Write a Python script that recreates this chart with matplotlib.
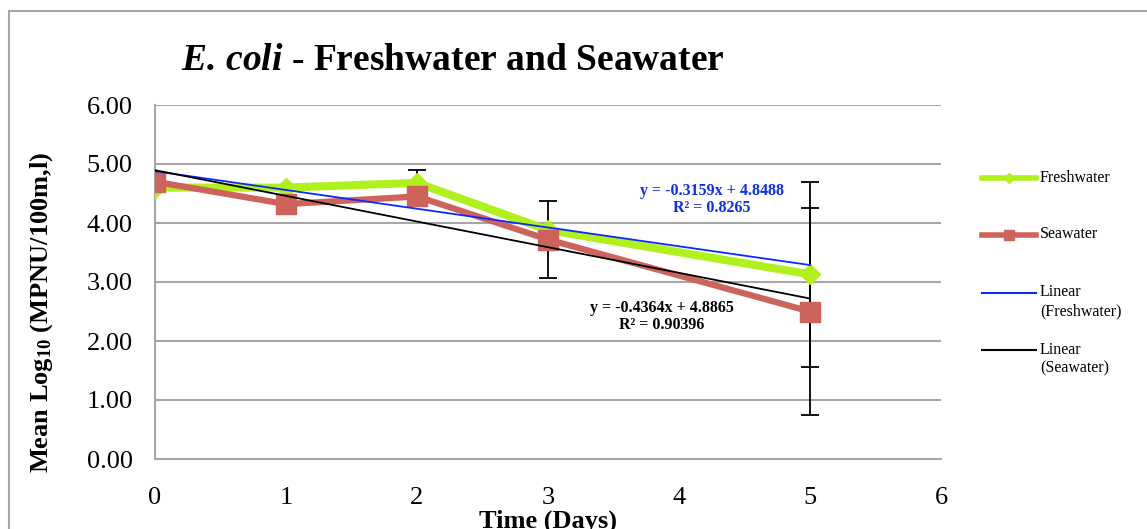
import numpy as np
import matplotlib

matplotlib.use("Agg")
import matplotlib.pyplot as plt
from matplotlib.lines import Line2D
from matplotlib.patches import Rectangle

days = [0, 1, 2, 3, 5]
freshwater = [4.60, 4.60, 4.68, 3.88, 3.13]
seawater = [4.70, 4.32, 4.45, 3.72, 2.50]
freshwater_err = [0, 0, 0.22, 0, 1.57]
seawater_err = [0, 0, 0, 0.66, 1.76]
fresh_eq = "y = -0.3159x + 4.8488\nR² = 0.8265"
sea_eq = "y = -0.4364x + 4.8865\nR² = 0.90396"
legend_labels = ["Freshwater", "Seawater", "Linear\n(Freshwater)", "Linear\n(Seawater)"]

GREEN = "#B0F01C"
RED = "#CD635B"
BLUE = "#0A2BFF"
GRID = "#A6A6A6"

plt.rcParams["font.family"] = ["Liberation Serif", "DejaVu Serif"]
plt.rcParams["mathtext.fontset"] = "custom"
plt.rcParams["mathtext.rm"] = "Liberation Serif"
plt.rcParams["mathtext.bf"] = "Liberation Serif:bold"
plt.rcParams["mathtext.it"] = "Liberation Serif:italic"
plt.rcParams["mathtext.bfit"] = "Liberation Serif:italic:bold"

W, H = 1147, 529
fig = plt.figure(figsize=(W / 100, H / 100), dpi=100)
ax = fig.add_axes([155 / W, 1 - 459 / H, (941 - 155) / W, (459 - 105) / H])

x = np.array(days, dtype=float)
yf = np.array(freshwater)
ys = np.array(seawater)
ef = np.array(freshwater_err)
es = np.array(seawater_err)

# error bars (only where there is an error value)
for yv, ev in ((yf, ef), (ys, es)):
    m = ev > 0
    ax.errorbar(x[m], yv[m], yerr=ev[m], fmt="none", ecolor="black",
                elinewidth=1.3, capsize=6.5, capthick=1.3, zorder=2)

ax.plot(x, yf, color=GREEN, lw=5.8, marker="D", ms=10.5, zorder=3)
ax.plot(x, ys, color=RED, lw=4.5, marker="s", ms=15, zorder=4)

# linear trendlines
xt = np.array([0, 5.0])
pf = np.polyfit(x, yf, 1)
ps = np.polyfit(x, ys, 1)
ax.plot(xt, np.polyval(pf, xt), color=BLUE, lw=1.3, zorder=5)
ax.plot(xt, np.polyval(ps, xt), color="black", lw=1.3, zorder=5)

ax.text(4.25, 4.40, fresh_eq, color=BLUE, fontsize=11.5, fontweight="bold",
        ha="center", va="center", linespacing=1.1, zorder=6)
ax.text(3.87, 2.41, sea_eq, color="black", fontsize=11.5, fontweight="bold",
        ha="center", va="center", linespacing=1.1, zorder=6)

ax.set_xlim(0, 6)
ax.set_ylim(0, 6)
ax.set_xticks(range(0, 7))
ax.set_yticks(np.arange(0, 7, 1))
ax.set_yticklabels([f"{v:.2f}" for v in np.arange(0, 7, 1)])
ax.tick_params(axis="both", length=0, labelsize=19)
ax.tick_params(axis="y", pad=16)
ax.tick_params(axis="x", pad=20)
ax.grid(axis="y", color=GRID, lw=1.5)
ax.set_axisbelow(True)
for side in ("top", "right"):
    ax.spines[side].set_visible(False)
for side in ("left", "bottom"):
    ax.spines[side].set_color(GRID)
    ax.spines[side].set_linewidth(1.5)

ax.set_xlabel("Time (Days)", fontsize=19, fontweight="bold")
ax.set_ylabel(r"Mean Log$_{\mathbf{10}}$ (MPNU/100m,l)", fontsize=19, fontweight="bold")
ax.xaxis.set_label_coords(0.5, -0.143)
ax.yaxis.set_label_coords(-0.127, 0.415)

fig.text(453 / W, 1 - 60 / H, r"$\mathbfit{E.\,coli}$ - Freshwater and Seawater",
         fontsize=27, fontweight="bold", ha="center", va="center")

# legend, laid out like the spreadsheet one (handle level with first text line)
handle_styles = [
    dict(color=GREEN, lw=4, marker="D", ms=5),
    dict(color=RED, lw=4, marker="s", ms=6.5),
    dict(color=BLUE, lw=1.5),
    dict(color="black", lw=1.5),
]
entry_y = [178, 235, 293, 350]
for style, label, yp in zip(handle_styles, legend_labels, entry_y):
    yy = 1 - yp / H
    fig.add_artist(Line2D([982 / W, 1009 / W, 1036 / W], [yy, yy, yy],
                          transform=fig.transFigure, markevery=[1], **style))
    fig.text(1040 / W, yy + 8.5 / H, label, fontsize=11.5, ha="left", va="top",
             linespacing=1.25)

# chart area border
fig.add_artist(Rectangle((8.5 / W, -0.1), 1.2, 1 - 10.5 / H + 0.1,
                         transform=fig.transFigure, fill=False,
                         edgecolor=GRID, lw=1.5, clip_on=False))

fig.savefig("out.png", dpi=100)
